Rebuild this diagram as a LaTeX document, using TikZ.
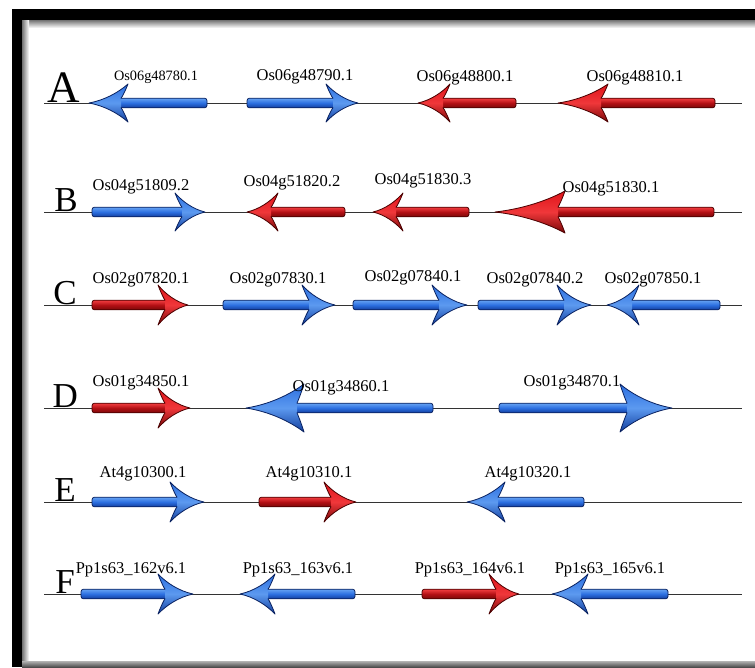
\documentclass[tikz,border=0pt]{standalone}
\usepackage{fontspec}
\setmainfont{Liberation Serif}
\definecolor{blueL}{HTML}{8CC4FF}
\definecolor{blueM}{HTML}{2C6FE0}
\definecolor{blueD}{HTML}{123E9E}
\definecolor{blueE}{HTML}{0A2260}
\definecolor{redL}{HTML}{FF5A5A}
\definecolor{redM}{HTML}{E0141A}
\definecolor{redD}{HTML}{7A0808}
\definecolor{redE}{HTML}{4A0000}
\tikzset{
  shaftblue/.style={top color=blueL!60!blueM, bottom color=blueD, middle color=blueM, draw=blueE, line width=0.8pt, rounded corners=2.5pt},
  headblue/.style={top color=blueM, bottom color=blueD, middle color=blueL!50!blueM},
  edgeblue/.style={draw=blueE, line width=0.8pt, line join=round, line cap=round},
  shaftred/.style={top color=redL!60!redM, bottom color=redD, middle color=redM!80!black, draw=redE, line width=0.8pt, rounded corners=2.5pt},
  headred/.style={top color=redM, bottom color=redD, middle color=redL!50!redM},
  edgered/.style={draw=redE, line width=0.8pt, line join=round, line cap=round},
  lbl/.style={anchor=base, inner sep=0pt, font=\fontsize{16.5}{18}\selectfont},
  lblsmall/.style={anchor=base, inner sep=0pt, font=\fontsize{14.3}{16}\selectfont},
  rowletter/.style={anchor=base east, inner sep=0pt, font=\fontsize{35}{36}\selectfont},
  rowline/.style={draw=black!80, line width=0.9pt}
}
% #1 tip x, #2 y, #3 direction, #4 total length, #5 head length, #6 head half width, #7 scheme
\newcommand\genearrow[7]{%
  \begin{scope}[shift={(#1,#2)}, xscale=#3]
    \path[shaft#7] (-#4,-4.8) rectangle ({-#5+10},4.8);
    \path[head#7] (0,0) .. controls ({-0.4*#5},{-0.15*#6}) and ({-0.75*#5},{-0.55*#6}) .. ({-#5},{-#6})
       .. controls ({-#5+3},{-0.6*#6}) and ({-#5+6},{-0.3*#6}) .. ({-#5+7},-4.8)
       -- ({-#5+7},4.8)
       .. controls ({-#5+6},{0.3*#6}) and ({-#5+3},{0.6*#6}) .. ({-#5},{#6})
       .. controls ({-0.75*#5},{0.55*#6}) and ({-0.4*#5},{0.15*#6}) .. (0,0) -- cycle;
    \path[edge#7] ({-#5+7},-4.8) .. controls ({-#5+6},{-0.3*#6}) and ({-#5+3},{-0.6*#6}) .. ({-#5},{-#6})
       .. controls ({-0.75*#5},{-0.55*#6}) and ({-0.4*#5},{-0.15*#6}) .. (0,0)
       .. controls ({-0.4*#5},{0.15*#6}) and ({-0.75*#5},{0.55*#6}) .. ({-#5},{#6})
       .. controls ({-#5+3},{0.6*#6}) and ({-#5+6},{0.3*#6}) .. ({-#5+7},4.8);
  \end{scope}}
\begin{document}
\begin{tikzpicture}[x=1pt,y=-1pt]
\useasboundingbox (0,0) rectangle (755,667);
\fill[white] (0,0) rectangle (755,667);
% frame
\fill[black] (12,9) rectangle (755,667);
\fill[white] (22,20) rectangle (755,661);
\shade[top color=black!55, bottom color=white] (22,20) rectangle (755,28);
\shade[left color=black!55, right color=white] (22,20) rectangle (29,661);
\shade[top color=black!30, bottom color=black!70] (22,661) rectangle (755,667);
% row lines
\foreach \r/\yy in {A/103, B/212, C/305, D/408, E/502, F/594}{
  \coordinate (s\r) at (44,\yy);
  \coordinate (e\r) at (742,\yy);
  \draw[rowline] (s\r) -- (e\r);
}
% row letters
\node[anchor=base east, inner sep=0pt, font=\fontsize{45}{46}\selectfont] (letA) at (80,102) {A};
\node[rowletter] (letB) at (78,211) {B};
\node[rowletter] (letC) at (77,304) {C};
\node[rowletter] (letD) at (78,407) {D};
\node[rowletter] (letE) at (76,501) {E};
\node[rowletter] (letF) at (75,593) {F};
% row A
\genearrow{89}{103}{-1}{118}{39}{19}{blue}
\genearrow{358}{103}{1}{111}{32}{19}{blue}
\genearrow{418}{103}{-1}{98}{32}{19}{red}
\genearrow{558}{103}{-1}{157}{50}{19}{red}
\node[lblsmall] (gA1) at (156,80) {Os06g48780.1};
\node[lbl] (gA2) at (305,80) {Os06g48790.1};
\node[lbl] (gA3) at (465,81) {Os06g48800.1};
\node[lbl] (gA4) at (635,81) {Os06g48810.1};
% row B
\genearrow{205}{212}{1}{113}{30}{19}{blue}
\genearrow{247}{212}{-1}{98}{31}{19}{red}
\genearrow{373}{212}{-1}{96}{30}{19}{red}
\genearrow{495}{212}{-1}{219}{70}{21}{red}
\node[lbl] (gB1) at (141,190) {Os04g51809.2};
\node[lbl] (gB2) at (292,186) {Os04g51820.2};
\node[lbl] (gB3) at (423,184) {Os04g51830.3};
\node[lbl] (gB4) at (611,192) {Os04g51830.1};
% row C
\genearrow{188}{305}{1}{96}{30}{20}{red}
\genearrow{335}{305}{1}{112}{33}{20}{blue}
\genearrow{467}{305}{1}{114}{35}{20}{blue}
\genearrow{591}{305}{1}{113}{34}{20}{blue}
\genearrow{607}{305}{-1}{113}{32}{20}{blue}
\node[lbl] (gC1) at (141,283) {Os02g07820.1};
\node[lbl] (gC2) at (278,283) {Os02g07830.1};
\node[lbl] (gC3) at (413,281) {Os02g07840.1};
\node[lbl] (gC4) at (535,283) {Os02g07840.2};
\node[lbl] (gC5) at (653,283) {Os02g07850.1};
% row D
\genearrow{190}{408}{1}{98}{32}{20}{red}
\genearrow{246}{408}{-1}{187}{58}{24}{blue}
\genearrow{672}{408}{1}{173}{52}{24}{blue}
\node[lbl] (gD1) at (141,386) {Os01g34850.1};
\node[lbl] (gD2) at (341,391) {Os01g34860.1};
\node[lbl] (gD3) at (572,386) {Os01g34870.1};
% row E
\genearrow{204}{502}{1}{112}{34}{20}{blue}
\genearrow{356}{502}{1}{97}{32}{20}{red}
\genearrow{467}{502}{-1}{117}{38}{20}{blue}
\node[lbl] (gE1) at (143,477) {At4g10300.1};
\node[lbl] (gE2) at (309,477) {At4g10310.1};
\node[lbl] (gE3) at (528,477) {At4g10320.1};
% row F
\genearrow{193}{594}{1}{112}{35}{20}{blue}
\genearrow{240}{594}{-1}{115}{35}{20}{blue}
\genearrow{519}{594}{1}{97}{30}{20}{red}
\genearrow{552}{594}{-1}{116}{36}{20}{blue}
\node[lbl] (gF1) at (131,573) {Pp1s63\_162v6.1};
\node[lbl] (gF2) at (298,573) {Pp1s63\_163v6.1};
\node[lbl] (gF3) at (470,573) {Pp1s63\_164v6.1};
\node[lbl] (gF4) at (610,573) {Pp1s63\_165v6.1};
\end{tikzpicture}
\end{document}
